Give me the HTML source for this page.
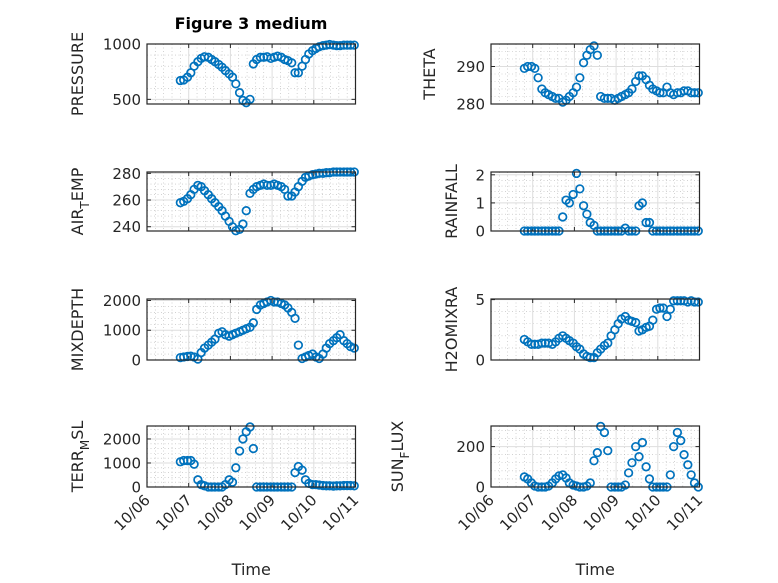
<!DOCTYPE html>
<html><head><meta charset="utf-8"><style>
html,body{margin:0;padding:0;background:#fff;}
svg{display:block;font-family:"DejaVu Sans","Liberation Sans",sans-serif;}
</style></head><body>
<svg id="fig" width="778" height="583" viewBox="0 0 778 583">
<rect x="0" y="0" width="778" height="583" fill="#fff"/>
<text x="251" y="29" text-anchor="middle" font-size="16" font-weight="bold" fill="#000">Figure 3 medium</text>
</svg>
<script>
const times=[0.80,0.88,0.97,1.05,1.13,1.22,1.30,1.38,1.47,1.55,1.63,1.72,1.80,1.88,1.97,2.05,2.13,2.22,2.30,2.38,2.47,2.55,2.63,2.72,2.80,2.88,2.97,3.05,3.13,3.22,3.30,3.38,3.47,3.55,3.63,3.72,3.80,3.88,3.97,4.05,4.13,4.22,4.30,4.38,4.47,4.55,4.63,4.72,4.80,4.88,4.97];
const xTickLabels=["10/06","10/07","10/08","10/09","10/10","10/11"];
const pressure=[670,675,700,740,800,840,870,885,880,860,840,815,790,760,730,700,640,560,490,470,500,820,860,880,880,885,870,880,890,880,860,850,830,740,740,800,860,910,940,960,975,985,990,995,990,985,985,990,990,990,990];
const airTemp=[258,259,261,264,268,271,270,267,264,261,258,255,252,248,244,240,237,238,242,252,265,268,270,271,272,271,271,272,271,270,268,263,263,266,270,274,277,278,279,279.5,280,280,280.5,280.5,281,281,281,281,281,281,281];
const theta=[289.5,290,290,289.5,287,284,283,282.5,282,281.5,281.5,280.5,281,282,283,284.5,287,291,293,294.5,295.5,293,282,281.5,281.5,281.5,281,281.5,282,282.5,283,284,286,287.5,287.5,286.5,285,284,283.5,283,283,284.5,283,282.5,283,283,283.5,283.5,283,283,283];
const rainfall=[0,0,0,0,0,0,0,0,0,0,0,0.5,1.1,1.0,1.3,2.05,1.5,0.9,0.6,0.3,0.2,0,0,0,0,0,0,0,0,0.1,0,0,0,0.9,1.0,0.3,0.3,0,0,0,0,0,0,0,0,0,0,0,0,0,0];
const mixDepth=[80,100,120,130,100,30,250,400,500,600,700,900,950,850,800,850,900,950,1000,1050,1100,1250,1700,1850,1900,1950,2000,1950,1950,1900,1850,1750,1600,1400,500,50,100,150,200,100,50,200,400,550,650,750,850,650,550,450,400];
const h2oMix=[1.7,1.5,1.3,1.3,1.3,1.4,1.4,1.4,1.3,1.5,1.8,2.0,1.8,1.6,1.4,1.1,0.9,0.5,0.3,0.2,0.2,0.6,0.9,1.2,1.4,2.0,2.5,3.0,3.4,3.6,3.3,3.2,3.1,2.4,2.5,2.7,2.8,3.3,4.2,4.3,4.3,3.6,4.2,4.9,4.9,4.9,4.9,4.8,4.9,4.8,4.8];
const terrMsl=[1050,1100,1100,1100,950,300,100,50,0,0,0,0,0,100,300,200,800,1500,2000,2300,2500,1600,0,0,0,0,0,0,0,0,0,0,0,600,850,700,300,150,100,100,80,60,50,50,40,50,50,60,60,60,50];
const sunFlux=[50,40,20,5,0,0,0,5,20,40,55,60,45,20,10,5,0,0,5,20,130,170,300,270,180,0,0,0,0,10,70,120,200,150,220,100,40,0,0,0,0,0,60,200,270,230,160,110,60,20,0];
const pressureTicks=[500,1000], airTicks=[240,260,280], thetaTicks=[280,290], rainTicks=[0,1,2], mixTicks=[0,1000,2000], h2oTicks=[0,5], terrTicks=[0,1000,2000], sunTicks=[0,200];

const NS="http://www.w3.org/2000/svg";
const svg=document.getElementById('fig');
function mk(tag,attrs,parent){const e=document.createElementNS(NS,tag);for(const k in attrs)e.setAttribute(k,attrs[k]);(parent||svg).appendChild(e);return e;}

const panels=[
 {name:'pressure',x0:147,y0:44,y1:104,ymin:458,ymax:1000,ticks:pressureTicks,data:pressure,label:['PRESSURE'],lx:78,xt:false},
 {name:'theta',x0:491,y0:44,y1:104,ymin:280,ymax:296,ticks:thetaTicks,data:theta,label:['THETA'],lx:430,xt:false},
 {name:'air-temp',x0:147,y0:172,y1:231,ymin:236.8,ymax:281,ticks:airTicks,data:airTemp,label:['AIR','T','EMP'],lx:78,xt:false},
 {name:'rainfall',x0:491,y0:172,y1:231,ymin:0,ymax:2.1,ticks:rainTicks,data:rainfall,label:['RAINFALL'],lx:452,xt:false},
 {name:'mixdepth',x0:147,y0:299,y1:360,ymin:0,ymax:2050,ticks:mixTicks,data:mixDepth,label:['MIXDEPTH'],lx:78,xt:false},
 {name:'h2omixra',x0:491,y0:299,y1:360,ymin:0,ymax:5.05,ticks:h2oTicks,data:h2oMix,label:['H2OMIXRA'],lx:452,xt:false},
 {name:'terr-msl',x0:147,y0:426,y1:487,ymin:0,ymax:2540,ticks:terrTicks,data:terrMsl,label:['TERR','M','SL'],lx:78,xt:true},
 {name:'sun-flux',x0:491,y0:426,y1:487,ymin:0,ymax:302,ticks:sunTicks,data:sunFlux,label:['SUN','F','LUX'],lx:398,xt:true}
];
const DAY=41.7;

panels.forEach(p=>{
 const x1=p.x0+5*DAY;
 const xs=t=>p.x0+t*DAY;
 const ys=v=>p.y1-(v-p.ymin)/(p.ymax-p.ymin)*(p.y1-p.y0);
 const g=mk('g',{});
 
 
 for(let d=0;d<5;d++)for(let k=1;k<5;k++){const x=xs(d+k/5);
  const l=mk('line',{x1:x,x2:x,y1:p.y0,y2:p.y1,stroke:'#b8b8b8','stroke-width':0.6,'stroke-dasharray':'1 2.5'},g);
  }
 const step=p.ticks.length>1?p.ticks[1]-p.ticks[0]:1;
 const ms=step/5;
 for(let v=Math.ceil(p.ymin/ms)*ms;v<=p.ymax+1e-9;v+=ms){
  if(Math.abs(v/step-Math.round(v/step))<1e-6)continue;const y=ys(v);
  const l=mk('line',{x1:p.x0,x2:x1,y1:y,y2:y,stroke:'#b8b8b8','stroke-width':0.6,'stroke-dasharray':'1 2.5'},g);
  }
 for(let d=1;d<5;d++){const x=xs(d);
  const l=mk('line',{x1:x,x2:x,y1:p.y0,y2:p.y1,stroke:'#dedede','stroke-width':1},g);
  }
 p.ticks.forEach(v=>{const y=ys(v);
  const l=mk('line',{x1:p.x0,x2:x1,y1:y,y2:y,stroke:'#dedede','stroke-width':1},g);
  
  const tl=mk('line',{x1:p.x0,x2:p.x0+4,y1:y,y2:y,stroke:'#262626','stroke-width':1},g);
  
  const tr=mk('line',{x1:x1-4,x2:x1,y1:y,y2:y,stroke:'#262626','stroke-width':1},g);
  
  const t=mk('text',{x:p.x0-6,y:y+5.5,'text-anchor':'end','font-size':15,fill:'#262626'},g);
  t.textContent=String(v);
  });
 for(let d=0;d<=5;d++){const x=xs(d);
  const a=mk('line',{x1:x,x2:x,y1:p.y1,y2:p.y1-4,stroke:'#262626','stroke-width':1},g);
  
  const b=mk('line',{x1:x,x2:x,y1:p.y0,y2:p.y0+4,stroke:'#262626','stroke-width':1},g);
  
  if(p.xt){const t=mk('text',{x:x+4,y:p.y1+14,'text-anchor':'end','font-size':15,fill:'#262626',transform:`rotate(-45 ${x+4} ${p.y1+14})`},g);
   t.textContent=xTickLabels[d];
   }}
 p.data.forEach((v,i)=>{
  const c=mk('circle',{cx:xs(times[i]),cy:ys(v),r:3.8,fill:'none',stroke:'#0072BD','stroke-width':1.7},g);
  });
 const box=mk('rect',{x:p.x0,y:p.y0,width:x1-p.x0,height:p.y1-p.y0,fill:'none',stroke:'#262626','stroke-width':1.2},g);
 
 const cy=(p.y0+p.y1)/2;
 const yl=mk('text',{x:p.lx,y:cy,'text-anchor':'middle','font-size':16,fill:'#262626',transform:`rotate(-90 ${p.lx} ${cy})`,'dominant-baseline':'middle'},g);
 
 p.label.forEach((s,i)=>{const ts=mk('tspan',{},yl);ts.textContent=s;
  if(i===1){ts.setAttribute('baseline-shift','sub');ts.setAttribute('font-size','12');}});
 if(p.xt){const xl=mk('text',{x:(p.x0+x1)/2,y:575,'text-anchor':'middle','font-size':16,fill:'#262626'},g);
  xl.textContent='Time';
  }
});
</script>
</body></html>
